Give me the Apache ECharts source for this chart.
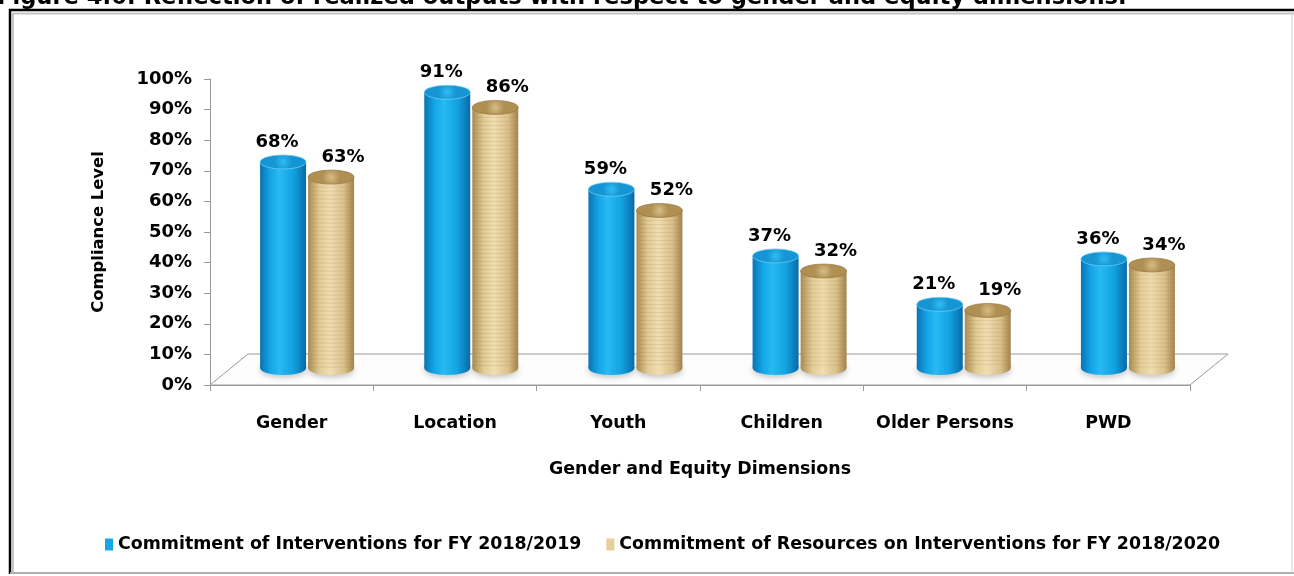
<!DOCTYPE html>
<html>
<head>
<meta charset="utf-8">
<script src="https://cdn.jsdelivr.net/npm/echarts@6/dist/echarts.min.js"></script>
<style>
  html, body { margin: 0; padding: 0; background: #fff; }
  #chart { width: 1294px; height: 576px; }
</style>
</head>
<body>
<div id="chart"></div>
<script>
// Gender and equity dimensions, compliance levels (%)
const categories = ['Gender', 'Location', 'Youth', 'Children', 'Older Persons', 'PWD'];
const interventions2019 = [68, 91, 59, 37, 21, 36];
const resources2020 = [63, 86, 52, 32, 19, 34];
const seriesNames = [
  'Commitment of Interventions for FY 2018/2019',
  'Commitment of Resources on Interventions for FY 2018/2020'
];
const yTicks = [0, 10, 20, 30, 40, 50, 60, 70, 80, 90, 100];

const FONT = '"DejaVu Sans", Verdana, sans-serif';

// front plane (axes) and column plane (set slightly back in depth)
const front = { left: 210, top: 79, width: 980, height: 306 };
const back = { left: 225, top: 65, width: 985, height: 303 };
const depth = { dx: 38, dy: 31 };

const palettes = [
  {
    body: [[0, '#0a73b3'], [0.22, '#13a5e6'], [0.42, '#27baf3'], [0.72, '#12a2e0'], [1, '#0a6aa8']],
    top: [[0, '#30bdf2'], [1, '#1595d3']],
    stripes: null
  },
  {
    body: [[0, '#a98b52'], [0.25, '#e2cb96'], [0.48, '#f0ddb0'], [0.78, '#dac08a'], [1, '#a2844c']],
    top: [[0, '#d6bd86'], [1, '#b08f52']],
    stripes: 'rgba(150,112,55,0.16)'
  }
];

function cylinder(params, api) {
  const si = params.seriesIndex;
  const pal = palettes[si];
  const val = api.value(1);
  const base = api.coord([api.value(0), 0]);
  const topPt = api.coord([api.value(0), val]);
  const w = 46, ry = 7;
  const cx = base[0] + (si === 0 ? -24 : 24);
  const x0 = cx - w / 2;
  const h = base[1] - topPt[1];
  const bodyFill = new echarts.graphic.LinearGradient(0, 0, 1, 0,
    pal.body.map(s => ({ offset: s[0], color: s[1] })));
  const children = [
    {
      type: 'ellipse',
      shape: { cx: cx, cy: base[1], rx: w / 2, ry: ry },
      style: { fill: bodyFill, shadowBlur: 6, shadowColor: 'rgba(0,0,0,0.25)', shadowOffsetY: 2 }
    },
    {
      type: 'rect',
      shape: { x: x0, y: topPt[1], width: w, height: h },
      style: { fill: bodyFill }
    }
  ];
  if (pal.stripes) {
    for (let y = topPt[1] + 6; y < base[1]; y += 4) {
      children.push({
        type: 'line',
        shape: { x1: x0 + 1, y1: y, x2: x0 + w - 1, y2: y },
        style: { stroke: pal.stripes, lineWidth: 1 }
      });
    }
  }
  children.push({
    type: 'ellipse',
    shape: { cx: cx, cy: topPt[1], rx: w / 2, ry: ry },
    style: {
      fill: new echarts.graphic.RadialGradient(0.5, 0.5, 0.6,
        pal.top.map(s => ({ offset: s[0], color: s[1] }))),
      stroke: si === 0 ? 'rgba(120,210,245,0.7)' : 'rgba(140,110,60,0.6)',
      lineWidth: 1
    }
  });
  children.push({
    type: 'text',
    style: {
      x: cx + (si === 0 ? -6 : 12),
      y: topPt[1] - 20,
      text: val + '%',
      align: 'center',
      verticalAlign: 'middle',
      font: 'bold 18px ' + FONT,
      fill: '#000'
    }
  });
  return { type: 'group', children: children };
}

const chart = echarts.init(document.getElementById('chart'), null, { renderer: 'canvas' });

const fl = front.left, fr = front.left + front.width, fb = front.top + front.height;

chart.setOption({
  backgroundColor: '#fff',
  animation: false,
  textStyle: { fontFamily: FONT },
  graphic: [
    // caption running along the top edge
    {
      type: 'text', left: -3, top: -13, z: 10,
      style: {
        text: 'Figure 4.6: Reflection of realized outputs with respect to gender and equity dimensions.',
        font: 'bold 22.6px ' + FONT, fill: '#000'
      }
    },
    // frame
    { type: 'polyline', shape: { points: [[10, 574], [10, 10], [1294, 10]] }, style: { stroke: '#000', lineWidth: 2.5, fill: 'none' }, z: 1 },
    { type: 'polyline', shape: { points: [[13, 572], [13, 13.5], [1294, 13.5]] }, style: { stroke: '#c4c4c4', lineWidth: 2, fill: 'none' }, z: 1 },
    { type: 'line', shape: { x1: 10, y1: 573, x2: 1294, y2: 573 }, style: { stroke: '#b0b0b0', lineWidth: 2 }, z: 1 },
    { type: 'line', shape: { x1: 1292, y1: 12, x2: 1292, y2: 573 }, style: { stroke: '#d0d0d0', lineWidth: 1 }, z: 1 },
    // floor of the plot
    {
      type: 'polygon', z: 0,
      shape: { points: [[fl, fb], [fl + depth.dx, fb - depth.dy], [fr + depth.dx, fb - depth.dy], [fr, fb]] },
      style: { fill: '#fdfdfd', stroke: '#9a9a9a', lineWidth: 1 }
    }
  ],
  legend: {
    left: 100, top: 531,
    itemWidth: 8, itemHeight: 12, itemGap: 25,
    icon: 'rect',
    textStyle: { fontWeight: 'bold', fontSize: 17.4, color: '#000', fontFamily: FONT },
    data: seriesNames
  },
  grid: [
    { left: front.left, top: front.top, width: front.width, height: front.height },
    { left: back.left, top: back.top, width: back.width, height: back.height }
  ],
  xAxis: [
    {
      type: 'category', gridIndex: 0, data: categories,
      axisLine: { lineStyle: { color: '#9a9a9a', width: 1 } },
      axisTick: { show: true, interval: 0, length: 6, lineStyle: { color: '#9a9a9a' } },
      axisLabel: { interval: 0, margin: 30, color: '#000', fontWeight: 'bold', fontSize: 17.4, fontFamily: FONT },
      name: 'Gender and Equity Dimensions',
      nameLocation: 'middle', nameGap: 76,
      nameTextStyle: { color: '#000', fontWeight: 'bold', fontSize: 17.4, fontFamily: FONT }
    },
    { type: 'category', gridIndex: 1, data: categories, show: false }
  ],
  yAxis: [
    {
      type: 'value', gridIndex: 0, min: 0, max: 100, interval: 10,
      axisLine: { show: true, lineStyle: { color: '#9a9a9a' } },
      axisTick: { show: true, length: 6, lineStyle: { color: '#9a9a9a' } },
      splitLine: { show: false },
      axisLabel: {
        margin: 18, color: '#000', fontWeight: 'bold', fontSize: 18, fontFamily: FONT,
        formatter: v => (yTicks.includes(v) ? v + '%' : '')
      },
      name: 'Compliance Level',
      nameLocation: 'middle', nameGap: 103,
      nameTextStyle: { color: '#000', fontWeight: 'bold', fontSize: 16.4, fontFamily: FONT }
    },
    { type: 'value', gridIndex: 1, min: 0, max: 100, show: false }
  ],
  series: [
    {
      name: seriesNames[0], type: 'custom', xAxisIndex: 1, yAxisIndex: 1,
      itemStyle: { color: '#1aa6e4' },
      renderItem: cylinder,
      data: interventions2019.map((v, i) => [i, v])
    },
    {
      name: seriesNames[1], type: 'custom', xAxisIndex: 1, yAxisIndex: 1,
      itemStyle: { color: '#e6cf98' },
      renderItem: cylinder,
      data: resources2020.map((v, i) => [i, v])
    }
  ]
});
</script>
</body>
</html>
